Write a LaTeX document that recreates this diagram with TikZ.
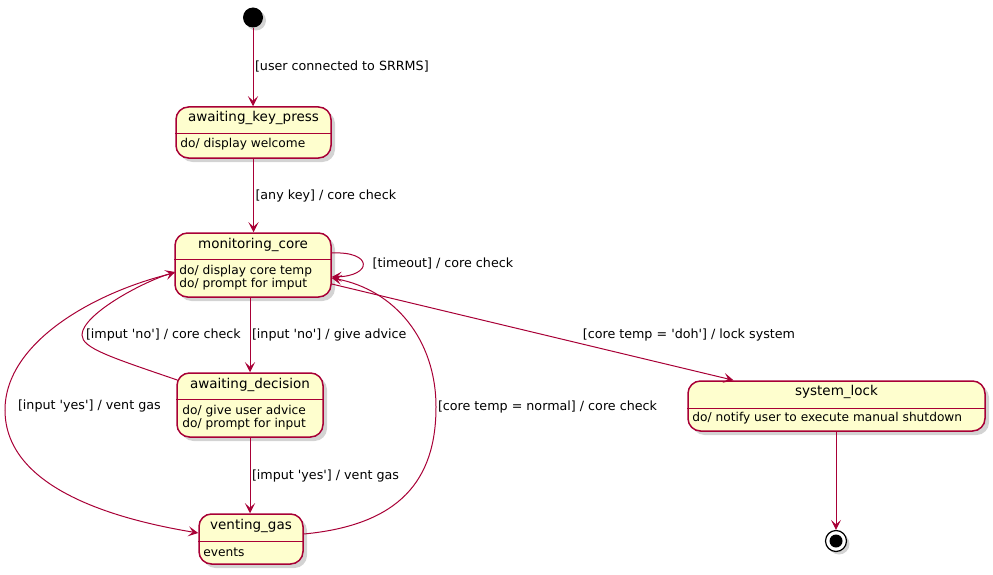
\documentclass[tikz,border=0pt]{standalone}
\usepackage{fontspec}
\setmainfont{DejaVu Sans}
\usetikzlibrary{arrows.meta,positioning,shadows,calc}
\definecolor{umlred}{HTML}{A80036}
\definecolor{umlfill}{HTML}{FEFECE}

\begin{document}
\begin{tikzpicture}[x=1pt, y=-1pt,
state node/.style={draw=umlred, fill=umlfill, line width=1.5pt, rounded corners=12.5pt, inner sep=0pt, drop shadow={shadow xshift=4pt, shadow yshift=-4pt, opacity=0.35}},
start node/.style={circle, fill=black, minimum size=20pt, inner sep=0pt, drop shadow={shadow xshift=3pt, shadow yshift=-3pt, opacity=0.35}},
end node/.style={circle, draw=black, fill=white, line width=1.2pt, minimum size=21pt, inner sep=0pt, drop shadow={shadow xshift=3pt, shadow yshift=-3pt, opacity=0.35}, path picture={\fill[black] (path picture bounding box.center) circle (6.5pt);}},
name text/.style={font=\fontsize{13.5pt}{16pt}\selectfont, inner sep=0pt},
do text/.style={font=\fontsize{12.2pt}{13.4pt}\selectfont, align=left, anchor=west, inner sep=0pt},
label text/.style={font=\fontsize{12.7pt}{15pt}\selectfont, inner sep=1.5pt},
sep line/.style={draw=umlred, line width=1pt},
trans/.style={draw=umlred, line width=1pt, -{Stealth[length=10pt, width=10pt, inset=4.5pt]}}]
\useasboundingbox (0,0) rectangle (993,575);
\begin{scope}
\node[start node] (init) at (253,17.5) {};
\node[state node, minimum width=155pt, minimum height=51pt] (keypress) at (253.5,132.5) {};
\node[state node, minimum width=156pt, minimum height=64pt] (monitor) at (253,265) {};
\node[state node, minimum width=146pt, minimum height=64pt] (decision) at (250,405) {};
\node[state node, minimum width=104pt, minimum height=50pt] (venting) at (251,539) {};
\node[state node, minimum width=297pt, minimum height=50pt] (lock) at (836.5,406) {};
\node[end node] (final) at (836,541) {};
\end{scope}
\begin{scope}
\node[name text] (keypressname) at ($(keypress.north)+(0,11.5)$) {awaiting\_key\_press};
\draw[sep line] ($(keypress.west)+(0,1)$) -- ($(keypress.east)+(0,1)$);
\node[do text] (keypressdo) at ($(keypress.west)+(5,11.5)$) {do/ display welcome};
\node[name text] (monitorname) at ($(monitor.north)+(0,13)$) {monitoring\_core};
\draw[sep line] ($(monitor.west)+(0,-6)$) -- ($(monitor.east)+(0,-6)$);
\node[do text] (monitordo) at ($(monitor.west)+(5,12.5)$) {do/ display core temp\\do/ prompt for imput};
\node[name text] (decisionname) at ($(decision.north)+(0,13)$) {awaiting\_decision};
\draw[sep line] ($(decision.west)+(0,-6)$) -- ($(decision.east)+(0,-6)$);
\node[do text] (decisiondo) at ($(decision.west)+(6,12.5)$) {do/ give user advice\\do/ prompt for input};
\node[name text] (ventingname) at ($(venting.north)+(0,13)$) {venting\_gas};
\draw[sep line] ($(venting.west)+(0,2)$) -- ($(venting.east)+(0,2)$);
\node[do text] (ventingdo) at ($(venting.west)+(5,13)$) {events};
\node[name text] (lockname) at ($(lock.north)+(0,12)$) {system\_lock};
\draw[sep line] ($(lock.west)+(0,2)$) -- ($(lock.east)+(0,2)$);
\node[do text] (lockdo) at ($(lock.west)+(5,12)$) {do/ notify user to execute manual shutdown};
\end{scope}
\begin{scope}
\draw[trans] (init) -- (init |- keypress.north) node[label text, midway, anchor=west] {[user connected to SRRMS]};
\draw[trans] (keypress.south) -- (keypress.south |- monitor.north) node[label text, midway, anchor=west] {[any key] / core check};
\draw[trans] ($(monitor.east)+(0,-12)$) .. controls (373,251) and (373,276) .. ($(monitor.east)+(0,12)$) node[label text, pos=0.5, anchor=west, xshift=8pt] {[timeout] / core check};
\draw[trans] (decision.north |- monitor.south) -- (decision.north) node[label text, midway, anchor=west] {[input \textquotesingle no\textquotesingle] / give advice};
\draw[trans] ($(decision.west)+(1,-25)$) .. controls (110,357) and (82,348) .. (82,335) node[label text, anchor=west, xshift=2pt] {[imput \textquotesingle no\textquotesingle] / core check} .. controls (82,315) and (140,283) .. ($(monitor.west)+(1,7)$);
\draw[trans] ($(monitor.west)+(0,8)$) .. controls (100,290) and (5,340) .. (5,410) node[label text, anchor=west, xshift=11pt, yshift=4pt] {[input \textquotesingle yes\textquotesingle] / vent gas} .. controls (5,490) and (120,520) .. ($(venting.west)+(0,-6)$);
\draw[trans] (decision.south) -- (decision.south |- venting.north) node[label text, midway, anchor=west] {[imput \textquotesingle yes\textquotesingle] / vent gas};
\draw[trans] ($(venting.east)+(0,-5)$) .. controls (400,525) and (436,480) .. (436,407) node[label text, anchor=west] {[core temp = normal] / core check} .. controls (436,340) and (395,290) .. ($(monitor.east)+(0,13)$);
\draw[trans] ($(monitor.east)+(0,19)$) -- ($(lock.north)+(-103,0)$) node[label text, pos=0.62, anchor=west, yshift=9pt] {[core temp = \textquotesingle doh\textquotesingle] / lock system};
\draw[trans] (final |- lock.south) -- (final);
\end{scope}
\end{tikzpicture}
\end{document}
